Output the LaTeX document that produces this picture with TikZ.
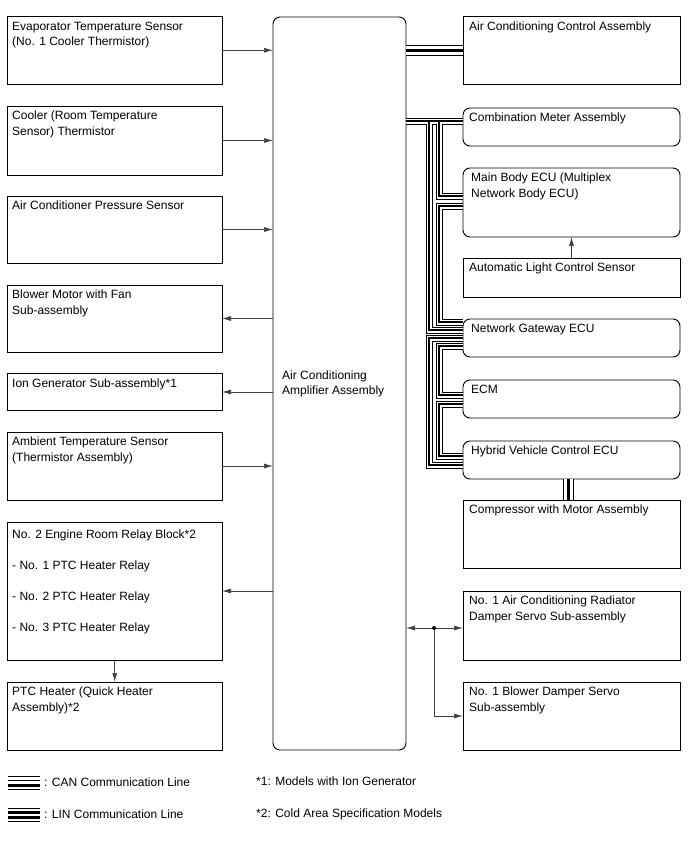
\documentclass[tikz,border=0pt]{standalone}
\usepackage{fontspec}
\setmainfont{Liberation Sans}
\usetikzlibrary{arrows.meta}
\begin{document}
\begin{tikzpicture}[x=1pt,y=-1pt,font=\fontsize{12}{15.5}\selectfont,
  bx/.style={draw=black, line width=0.9pt, anchor=north west, inner sep=0pt, outer sep=0pt, minimum width=#1},
  bx/.default=214.5pt,
  rbx/.style={bx=217pt},
  rrbx/.style={bx=217pt, rounded corners=7pt},
  lbl/.style={anchor=north west, inner sep=0pt, align=left, xshift=4.5pt, yshift=-5pt},
  rlbl/.style={lbl, xshift=1.5pt},
  rrlbl/.style={lbl, xshift=3.5pt},
  arr/.style={draw=black!75, line width=0.7pt, -{Latex[length=9pt,width=5pt]}},
  darr/.style={draw=black!75, line width=0.7pt, {Latex[length=9pt,width=5pt]}-{Latex[length=9pt,width=5pt]}},
  txt/.style={anchor=west, inner sep=0pt, align=left}
]
\useasboundingbox (0,0) rectangle (688,852);

% central box
\node[draw=black, line width=0.9pt, rounded corners=7pt, anchor=north west, inner sep=0pt, outer sep=0pt,
  minimum width=133pt, minimum height=733pt] (cent) at (273,17) {};
\node[txt] (ctext) at (282,384) {Air Conditioning\\Amplifier Assembly};

% left boxes
\node[bx, minimum height=67.5pt, label={[lbl]north west:Evaporator Temperature Sensor\\(No. 1 Cooler Thermistor)}] (l1) at (7.5,16.5) {};
\node[bx, minimum height=69pt, label={[lbl]north west:Cooler (Room Temperature\\Sensor) Thermistor}] (l2) at (7.5,106) {};
\node[bx, minimum height=67pt, label={[lbl]north west:Air Conditioner Pressure Sensor}] (l3) at (7.5,196) {};
\node[bx, minimum height=67pt, label={[lbl]north west:Blower Motor with Fan\\Sub-assembly}] (l4) at (7.5,285) {};
\node[bx, minimum height=37pt, label={[lbl]north west:Ion Generator Sub-assembly*1}] (l5) at (7.5,373.5) {};
\node[bx, minimum height=68pt, label={[lbl]north west:Ambient Temperature Sensor\\(Thermistor Assembly)}] (l6) at (7.5,432) {};
\node[bx, minimum height=138pt, label={[lbl, yshift=-2.5pt]north west:No. 2 Engine Room Relay Block*2\\[16pt]- No. 1 PTC Heater Relay\\[15pt]- No. 2 PTC Heater Relay\\[16pt]- No. 3 PTC Heater Relay}] (l7) at (7.5,522) {};
\node[bx, minimum height=68pt, label={[lbl]north west:PTC Heater (Quick Heater\\Assembly)*2}] (l8) at (7.5,682) {};

% right boxes
\node[rbx, minimum height=67.5pt, label={[rlbl]north west:Air Conditioning Control Assembly}] (acc) at (463,16.5) {};
\node[rrbx, minimum height=38pt, label={[rlbl]north west:Combination Meter Assembly}] (cm) at (463,108) {};
\node[rrbx, minimum height=69pt, label={[rrlbl]north west:Main Body ECU (Multiplex\\Network Body ECU)}] (mb) at (463,168) {};
\node[rbx, minimum height=39pt, label={[rlbl]north west:Automatic Light Control Sensor}] (als) at (463,258) {};
\node[rrbx, minimum height=38pt, label={[rrlbl]north west:Network Gateway ECU}] (nw) at (463,319) {};
\node[rrbx, minimum height=38pt, label={[rrlbl]north west:ECM}] (ecm) at (463,380) {};
\node[rrbx, minimum height=38pt, label={[rrlbl]north west:Hybrid Vehicle Control ECU}] (hv) at (463,441) {};
\node[rbx, minimum height=68pt, label={[rlbl]north west:Compressor with Motor Assembly}] (cmp) at (463,500) {};
\node[rbx, minimum height=69pt, label={[rlbl]north west:No. 1 Air Conditioning Radiator\\Damper Servo Sub-assembly}] (rad) at (463,591) {};
\node[rbx, minimum height=68pt, label={[rlbl]north west:No. 1 Blower Damper Servo\\Sub-assembly}] (blw) at (463,682) {};

% left connectors
\draw[arr] (l1.east) -- (cent.west |- l1.east);
\draw[arr] (l2.east) -- (cent.west |- l2.east);
\draw[arr] (l3.east) -- (cent.west |- l3.east);
\draw[arr] (cent.west |- l4.east) -- (l4.east);
\draw[arr] (cent.west |- l5.east) -- (l5.east);
\draw[arr] (l6.east) -- (cent.west |- l6.east);
\draw[arr] (cent.west |- l7.east) -- (l7.east);
\draw[arr] (l7.south) -- (l8.north);

% right thin connectors
\draw[arr] (als.north) -- (mb.south);
\coordinate (jd) at (434,628);
\draw[darr] (cent.east |- jd) -- (rad.west |- jd);
\draw[arr] (jd) |- (blw.west);
\fill[black] (jd) circle (2pt);

% LIN lines
\foreach \lw/\lc in {11/black,9/white,3/black}{
  \draw[line width=\lw pt, draw=\lc] (cent.east |- 0,50) -- (acc.west |- 0,50)
    (hv.south -| 568,0) -- (cmp.north -| 568,0);
}

% CAN lines
\foreach \lw/\lc in {7/black,5/white,2.8/black}{
  \draw[line width=\lw pt, draw=\lc, line join=miter]
    (cent.east |- 0,121) -- (cm.west |- 0,121)
    (429,121) -- (429,330) -- (nw.west |- 0,330)
    (439,121) -- (439,196) -- (mb.west |- 0,196)
    (mb.west |- 0,206) -- (439,206) -- (439,322) -- (nw.west |- 0,322)
    (nw.west |- 0,338) -- (429,338) -- (429,465) -- (hv.west |- 0,465)
    (nw.west |- 0,346) -- (439,346) -- (439,395) -- (ecm.west |- 0,395)
    (ecm.west |- 0,404) -- (439,404) -- (439,456) -- (hv.west |- 0,456);
}

% legend
\draw[line width=1.3pt] (8,776.5) -- (40,776.5);
\draw[line width=1.0pt] (8,780.5) -- (40,780.5);
\draw[line width=2.4pt] (8,785.5) -- (40,785.5);
\draw[line width=0.7pt] (8,789.5) -- (40,789.5);
\node[txt] (lcan) at (44,782) {: CAN Communication Line};

\draw[line width=0.7pt] (8,808) -- (40,808);
\draw[line width=2.2pt] (8,812.5) -- (40,812.5);
\draw[line width=2.4pt] (8,817.5) -- (40,817.5);
\draw[line width=0.7pt] (8,821.5) -- (40,821.5);
\node[txt] (llin) at (44,814) {: LIN Communication Line};

\node[txt] (fn1) at (256,781) {*1: Models with Ion Generator};
\node[txt] (fn2) at (256,814) {*2: Cold Area Specification Models};
\end{tikzpicture}
\end{document}
